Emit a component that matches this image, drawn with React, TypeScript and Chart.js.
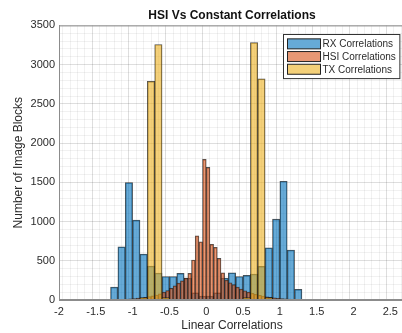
import React, { useEffect, useRef } from 'react';
import { Chart, registerables } from 'chart.js';

Chart.register(...registerables);

const chartTitle = 'HSI Vs Constant Correlations';
const xAxisTitle = 'Linear Correlations';
const yAxisTitle = 'Number of Image Blocks';
const seriesNames = ['RX Correlations', 'HSI Correlations', 'TX Correlations'];

// RX histogram (bin width 0.1): bin centers and counts
const rxBinCenters = [-1.25, -1.15, -1.05, -0.95, -0.85, -0.75, -0.65, -0.55, -0.45, -0.35, -0.25, -0.15, -0.05,
  0.05, 0.15, 0.25, 0.35, 0.45, 0.55, 0.65, 0.75, 0.85, 0.95, 1.05, 1.15, 1.25];
const rxCounts = [165, 678, 1497, 1018, 585, 433, 343, 300, 300, 340, 280, 90, 50,
  50, 90, 280, 347, 300, 314, 330, 430, 665, 1030, 1514, 636, 136];

// HSI histogram (bin width 0.05)
const hsiBinCenters = [-1.475, -1.425, -1.375, -1.325, -1.275, -1.225, -1.175, -1.125, -1.075, -1.025,
  -0.975, -0.925, -0.875, -0.825, -0.775, -0.725, -0.675, -0.625, -0.575, -0.525,
  -0.475, -0.425, -0.375, -0.325, -0.275, -0.225, -0.175, -0.125, -0.075, -0.025,
  0.025, 0.075, 0.125, 0.175, 0.225, 0.275, 0.325, 0.375, 0.425, 0.475,
  0.525, 0.575, 0.625, 0.675, 0.725, 0.775, 0.825, 0.875, 0.925, 0.975,
  1.025, 1.075, 1.125, 1.175, 1.225, 1.275, 1.325, 1.375, 1.425, 1.475];
const hsiCounts = [1, 2, 2, 3, 5, 6, 8, 10, 12, 15,
  19, 23, 28, 34, 42, 52, 64, 78, 100, 120,
  150, 180, 215, 245, 280, 340, 510, 818, 742, 1794,
  1690, 709, 671, 530, 347, 254, 220, 195, 165, 140,
  118, 100, 85, 72, 60, 50, 40, 33, 27, 22,
  18, 14, 11, 9, 7, 5, 4, 3, 2, 1];

// TX histogram (bin width 0.1)
const txBinCenters = [-0.85, -0.75, -0.65, -0.55, 0.55, 0.65, 0.75, 0.85];
const txCounts = [30, 2787, 3257, 30, 30, 3282, 2820, 30];

const xTickLabels = [-2, -1.5, -1, -0.5, 0, 0.5, 1, 1.5, 2, 2.5];
const yTickLabels = [0, 500, 1000, 1500, 2000, 2500, 3000, 3500];

const FONT = '"Liberation Sans", Arial, Helvetica, sans-serif';
const TEXT = '#2b2b2b';

const isMajorX = (v: number) => xTickLabels.some((t) => Math.abs(t - v) < 1e-6);
const isMajorY = (v: number) => yTickLabels.some((t) => Math.abs(t - v) < 1e-6);

const frameAndLegend = {
  id: 'frameAndLegend',
  afterDatasetsDraw(chart: any) {
    const { ctx, chartArea: a } = chart;
    ctx.save();
    ctx.strokeStyle = '#8c8c8c';
    ctx.lineWidth = 1;
    ctx.strokeRect(a.left + 0.5, a.top + 0.5, a.right - a.left - 1, a.bottom - a.top - 1);

    ctx.font = `10px ${FONT}`;
    const ds = chart.data.datasets;
    const rowH = 12.7, swW = 33, swH = 10, padX = 4, padY = 3, gap = 2;
    const textW = Math.max(...ds.map((d: any) => ctx.measureText(d.label).width));
    const w = padX + swW + gap + textW + 4;
    const h = padY * 2 + rowH * ds.length;
    const x = Math.round(a.right - 6 - w) + 0.5;
    const y = Math.round(a.top + 9) + 0.5;
    ctx.fillStyle = '#ffffff';
    ctx.fillRect(x, y, w, h);
    ctx.strokeStyle = '#333';
    ctx.strokeRect(x, y, w, h);
    ds.forEach((d: any, i: number) => {
      const cy = y + padY + rowH * i + rowH / 2;
      ctx.fillStyle = d.backgroundColor;
      ctx.fillRect(x + padX, cy - swH / 2, swW, swH);
      ctx.strokeStyle = '#222';
      ctx.strokeRect(x + padX, cy - swH / 2, swW, swH);
      ctx.fillStyle = TEXT;
      ctx.textBaseline = 'middle';
      ctx.textAlign = 'left';
      ctx.fillText(d.label, x + padX + swW + gap, cy + 0.5);
    });
    ctx.restore();
  },
};

export default function App() {
  const ref = useRef<HTMLCanvasElement | null>(null);

  useEffect(() => {
    if (!ref.current) return;
    const toPoints = (xs: number[], ys: number[]) => xs.map((x, i) => ({ x, y: ys[i] }));
    const common = {
      barPercentage: 1,
      categoryPercentage: 1,
      grouped: false,
      borderWidth: 0.8,
      borderColor: 'rgba(20,20,20,0.75)',
      borderSkipped: 'start' as const,
    };
    const gridColor = (major: (v: number) => boolean) => (c: any) =>
      c && c.tick && major(c.tick.value) ? 'rgba(0,0,0,0.13)' : 'rgba(0,0,0,0.055)';
    const chart = new Chart(ref.current, {
      type: 'bar',
      data: {
        datasets: [
          { ...common, label: seriesNames[0], data: toPoints(rxBinCenters, rxCounts), backgroundColor: 'rgba(0,114,189,0.6)', xAxisID: 'x', order: 3 },
          { ...common, label: seriesNames[1], data: toPoints(hsiBinCenters, hsiCounts), backgroundColor: 'rgba(217,83,25,0.6)', xAxisID: 'x2', order: 2 },
          { ...common, label: seriesNames[2], data: toPoints(txBinCenters, txCounts), backgroundColor: 'rgba(237,177,32,0.6)', xAxisID: 'x', order: 1 },
        ] as any,
      },
      options: {
        animation: false,
        responsive: false,
        devicePixelRatio: 1,
        layout: { padding: { left: 0, right: 2, top: 0, bottom: 0 } },
        plugins: {
          legend: { display: false },
          tooltip: { enabled: false },
          title: {
            display: true,
            fullSize: false,
            text: chartTitle,
            color: '#111',
            font: { family: FONT, size: 12, weight: 'bold' },
            padding: { top: 8, bottom: 3 },
          },
        },
        scales: {
          x: {
            type: 'linear',
            min: -2,
            max: 2.7,
            offset: false,
            ticks: {
              stepSize: 0.1,
              autoSkip: false,
              maxRotation: 0,
              padding: 5,
              color: TEXT,
              font: { family: FONT, size: 11 },
              callback: (v: any) => (isMajorX(Number(v)) ? String(Math.round(Number(v) * 10) / 10) : ''),
            },
            grid: { drawTicks: false, color: gridColor(isMajorX) },
            border: { display: true, color: '#8c8c8c' },
            title: {
              display: true,
              text: xAxisTitle,
              color: TEXT,
              font: { family: FONT, size: 12 },
              padding: { top: -2, bottom: 0 },
            },
            afterFit: (s: any) => { s.height = 33; },
          },
          x2: {
            type: 'linear',
            min: -2,
            max: 2.7,
            display: false,
            offset: false,
            ticks: { stepSize: 0.5 },
          },
          y: {
            type: 'linear',
            min: 0,
            max: 3500,
            ticks: {
              stepSize: 100,
              autoSkip: false,
              padding: 4,
              color: TEXT,
              font: { family: FONT, size: 11 },
              callback: (v: any) => (isMajorY(Number(v)) ? String(Math.round(Number(v))) : ''),
            },
            grid: { drawTicks: false, color: gridColor(isMajorY) },
            border: { display: true, color: '#8c8c8c' },
            title: {
              display: true,
              text: yAxisTitle,
              color: TEXT,
              font: { family: FONT, size: 12 },
              padding: { top: 11, bottom: 0 },
            },
            afterFit: (s: any) => { s.width = 59; },
          },
        },
      } as any,
      plugins: [frameAndLegend],
    });
    return () => chart.destroy();
  }, []);

  return (
    <div style={{ position: 'fixed', left: 0, top: 0, width: 402, height: 333, overflow: 'hidden', background: '#fff' }}>
      <canvas ref={ref} width={410} height={333} style={{ display: 'block' }} />
    </div>
  );
}
